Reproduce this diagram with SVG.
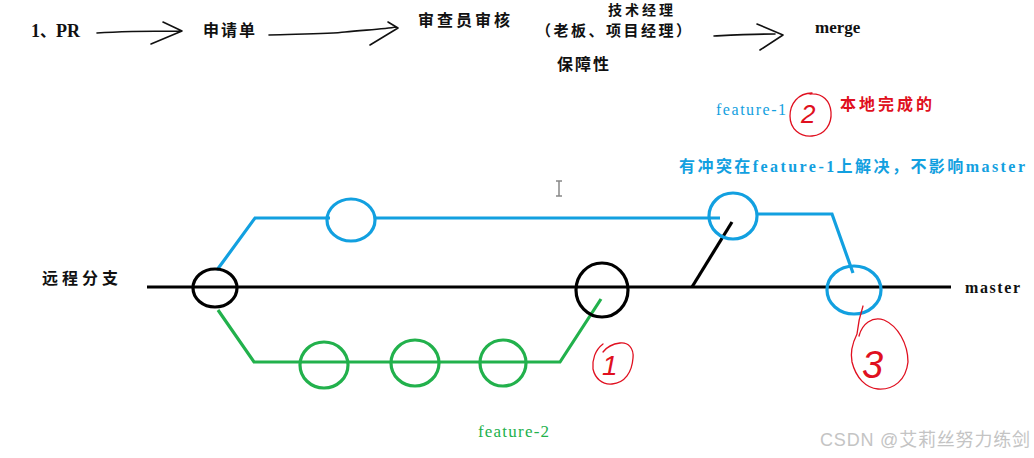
<svg xmlns="http://www.w3.org/2000/svg" width="1034" height="458" viewBox="0 0 1034 458">
<style>
.t{font-family:"Liberation Serif","Noto Sans CJK SC",serif;fill:#111;font-weight:bold}
.cjk{font-family:"Noto Sans CJK SC","Liberation Serif",sans-serif;fill:#111;font-weight:bold}
.blue{stroke:#12a0e0;stroke-width:3.2;fill:none}
.green{stroke:#22b14c;stroke-width:3.2;fill:none}
.black{stroke:#000;stroke-width:3.2;fill:none}
.pen{stroke:#111;stroke-width:1.6;fill:none;stroke-linecap:round;stroke-linejoin:round}
.red{stroke:#e01020;stroke-width:1.3;fill:none;stroke-linecap:round;stroke-linejoin:round}
.num{fill:#e01020;font-family:"Liberation Sans",sans-serif;font-style:italic}
</style>
<rect width="1034" height="458" fill="#fff"/>
<g id="flow">
<text class="t" x="31" y="37" font-size="18">1<tspan class="cjk" font-size="16" font-weight="normal">、</tspan>PR</text>
<path class="pen" d="M97,33 C125,31 155,31 181,31 M163,22 L182,31 L151,44"/>
<text class="cjk" x="203" y="36" font-size="16" letter-spacing="2">申请单</text>
<path class="pen" d="M269,35 C300,34 330,34 345,32 C365,30 385,29 396,27 M388,22 L398,28 L370,45"/>
<text class="cjk" x="418" y="26" font-size="16" letter-spacing="3">审查员审核</text>
<text class="cjk" x="608" y="15" font-size="14" letter-spacing="3">技术经理</text>
<text class="cjk" x="536" y="36" font-size="15" letter-spacing="2.5">（老板、项目经理）</text>
<text class="cjk" x="557" y="70" font-size="16" letter-spacing="2">保障性</text>
<path class="pen" d="M714,36 C735,35 755,34 775,34 M757,24 L783,35 L760,50"/>
<text class="t" x="815" y="33" font-size="17" font-weight="normal">merge</text>
</g>
<g id="labels">
<text class="cjk" x="42" y="284" font-size="16" letter-spacing="4">远程分支</text>
<text class="t" x="965" y="293" font-size="16" font-weight="normal" textLength="55">master</text>
<text x="716" y="115" font-size="16" fill="#12a0e0" font-family="Liberation Serif,serif" textLength="70">feature-1</text>
<text x="840" y="110" font-size="16" fill="#e01020" font-family="Noto Sans CJK SC,sans-serif" font-weight="bold" letter-spacing="3">本地完成的</text>
<text x="679" y="172" font-size="16" fill="#12a0e0" font-family="Liberation Serif,Noto Sans CJK SC,serif" font-weight="bold" textLength="346">有冲突在feature-1上解决，不影响master</text>
<text x="478" y="437" font-size="17" fill="#22b14c" font-family="Liberation Serif,serif" textLength="71">feature-2</text>
<text x="820" y="446" font-size="18" fill="#c4c4c4" font-family="Liberation Sans,Noto Sans CJK SC,sans-serif" textLength="210">CSDN @艾莉丝努力练剑</text>
</g>
<g id="connectors">
<path class="black" d="M147,287 H951"/>
<path class="black" d="M692,287 L732,222"/>
<path class="blue" d="M217,270 L255,218 H330 M375,218 H720"/>
<path class="blue" d="M757,214 H832 L853,273"/>
<path class="green" d="M218,310 L254,362 H560 L601,299"/>
</g>
<g id="node-base"><ellipse class="black" cx="215" cy="288" rx="22" ry="19"/></g>
<g id="node-f1a"><ellipse class="blue" cx="351" cy="220" rx="24" ry="21"/></g>
<g id="node-f1b"><ellipse class="blue" cx="733" cy="216" rx="24" ry="23"/></g>
<g id="node-merge"><ellipse class="blue" cx="854" cy="290" rx="27" ry="24"/></g>
<g id="node-m2"><ellipse class="black" cx="602" cy="290" rx="26" ry="27"/></g>
<g id="node-g1"><ellipse class="green" cx="324" cy="365" rx="24" ry="23"/></g>
<g id="node-g2"><ellipse class="green" cx="415" cy="363" rx="24" ry="23"/></g>
<g id="node-g3"><ellipse class="green" cx="503" cy="363" rx="23" ry="23"/></g>
<g id="annotations">
<path class="red" d="M812,93 C798,93 790,104 790,116 C790,129 800,137 812,136 C825,135 832,124 831,112 C830,101 823,93 810,94"/>
<text class="num" x="801" y="123" font-size="26" font-style="normal">2</text>
<path class="red" d="M603,344 C595,350 592,360 593,369 C595,378 602,385 612,384 C625,383 632,372 633,358 C634,348 628,342 620,343 C612,344 606,348 603,352"/>
<text class="num" x="602" y="375" font-size="28">1</text>
<path class="red" d="M863,306 C860,315 858,324 857,334 C853,342 850,352 852,362 C856,378 866,388 878,389 C894,390 906,380 908,362 C908,344 898,326 884,320 C872,316 862,324 859,336"/>
<text class="num" x="862" y="378" font-size="38">3</text>
<path d="M556,181 H562 M559,181 V196 M556,196 H562" stroke="#888" stroke-width="1.5" fill="none"/>
</g>
</svg>
